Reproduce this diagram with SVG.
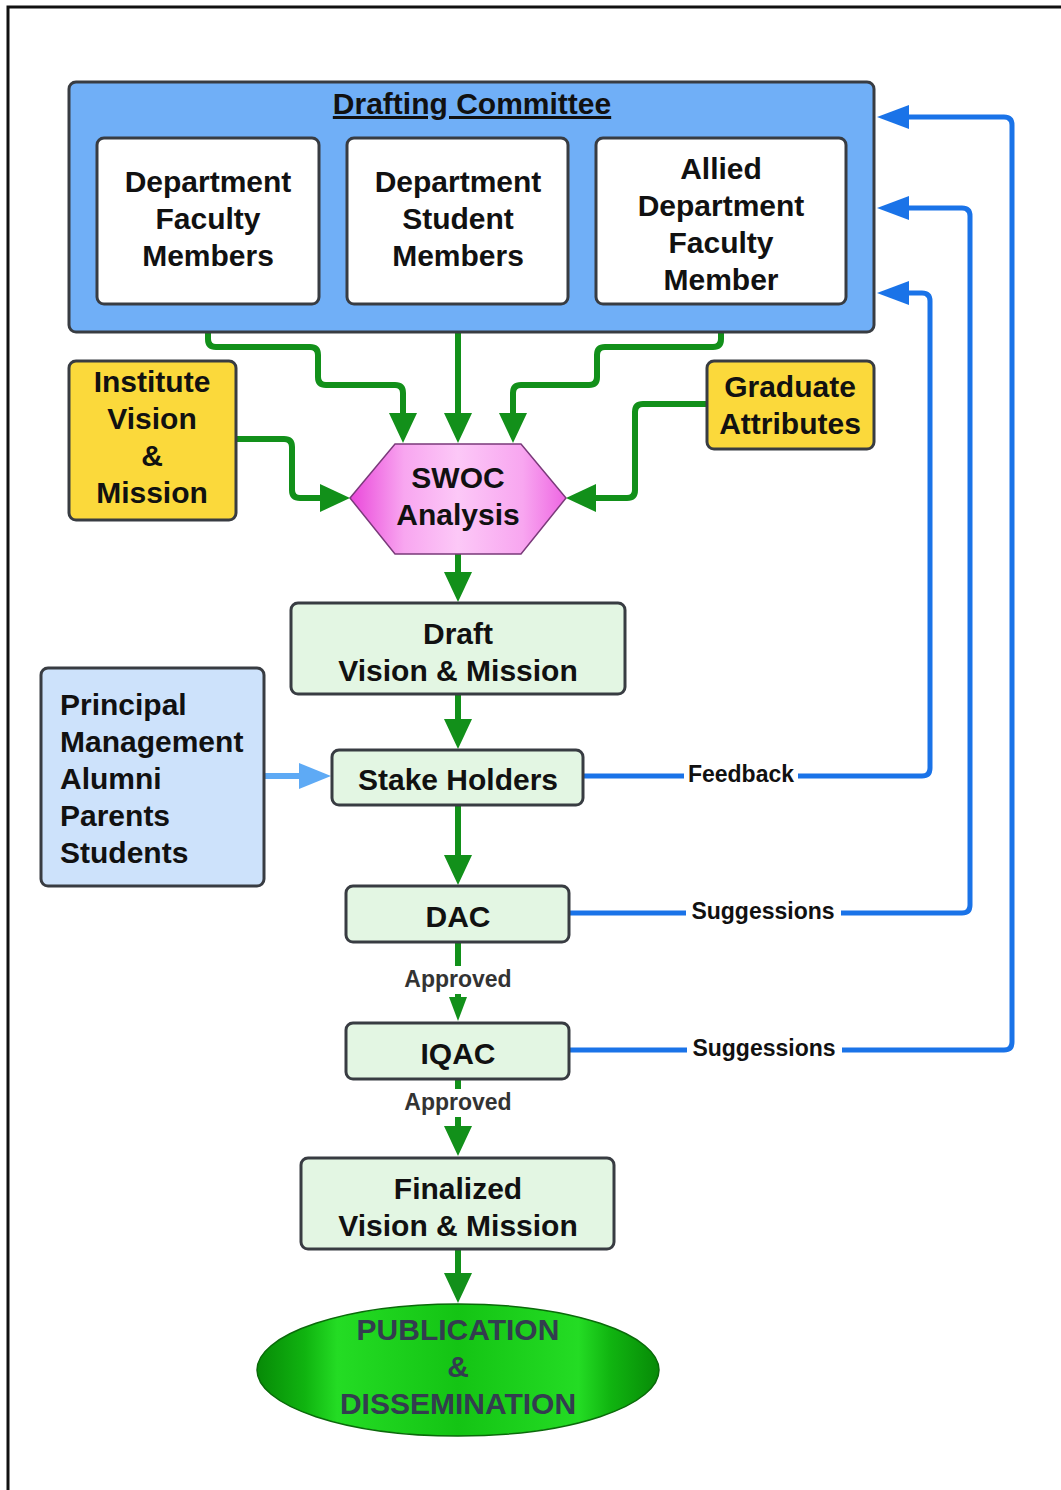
<svg xmlns="http://www.w3.org/2000/svg" width="1061" height="1490" viewBox="0 0 1061 1490">
<defs>
<style>
.box{stroke:#383c42;stroke-width:3}
.t{font-family:"Liberation Sans",Arial,sans-serif;font-weight:bold;font-size:30px;fill:#111;text-anchor:middle}
.lbl{font-family:"Liberation Sans",Arial,sans-serif;font-weight:bold;font-size:23px;fill:#111;text-anchor:middle}
.g{fill:none;stroke:#12901a;stroke-width:6}
.b{fill:none;stroke:#1a73e8;stroke-width:5}
</style>
<marker id="ag" markerUnits="userSpaceOnUse" markerWidth="30" markerHeight="28" refX="15" refY="14" orient="auto"><path d="M0,0 L30,14 L0,28 z" fill="#12901a"/></marker>
<marker id="ags" markerUnits="userSpaceOnUse" markerWidth="24" markerHeight="18" refX="12" refY="9" orient="auto"><path d="M0,0 L24,9 L0,18 z" fill="#12901a"/></marker>
<marker id="ab" markerUnits="userSpaceOnUse" markerWidth="32" markerHeight="24" refX="16" refY="12" orient="auto"><path d="M0,0 L32,12 L0,24 z" fill="#1a73e8"/></marker>
<marker id="alb" markerUnits="userSpaceOnUse" markerWidth="32" markerHeight="26" refX="16" refY="13" orient="auto"><path d="M0,0 L32,13 L0,26 z" fill="#5eaaf5"/></marker>
<linearGradient id="pink" x1="0" y1="0" x2="1" y2="0">
<stop offset="0" stop-color="#ea48da"/><stop offset="0.25" stop-color="#f8a6f0"/><stop offset="0.5" stop-color="#fcc8f7"/><stop offset="0.8" stop-color="#f8a6f0"/><stop offset="1" stop-color="#ee66e2"/>
</linearGradient>
<linearGradient id="grn" x1="0" y1="0" x2="1" y2="0">
<stop offset="0" stop-color="#078a07"/><stop offset="0.12" stop-color="#10b410"/><stop offset="0.2" stop-color="#24dc24"/><stop offset="0.5" stop-color="#14c414"/><stop offset="0.8" stop-color="#24dc24"/><stop offset="0.88" stop-color="#10b410"/><stop offset="1" stop-color="#078a07"/>
</linearGradient>
</defs>
<rect width="1061" height="1490" fill="#fff"/>
<path d="M8,1490 V7 H1061" fill="none" stroke="#111" stroke-width="3"/>

<g id="connectors">
<path class="g" d="M208,304 V339 Q208,347 216,347 H310 Q318,347 318,355 V377 Q318,385 326,385 H395 Q403,385 403,393 V428" marker-end="url(#ag)"/>
<path class="g" d="M458,304 V428" marker-end="url(#ag)"/>
<path class="g" d="M721,304 V339 Q721,347 713,347 H605 Q597,347 597,355 V377 Q597,385 589,385 H521 Q513,385 513,393 V428" marker-end="url(#ag)"/>
<path class="g" d="M236,439 H284 Q292,439 292,447 V490 Q292,498 300,498 H335" marker-end="url(#ag)"/>
<path class="g" d="M707,404 H643 Q635,404 635,412 V490 Q635,498 627,498 H581" marker-end="url(#ag)"/>
<path class="g" d="M458,554 V587" marker-end="url(#ag)"/>
<path class="g" d="M458,694 V734" marker-end="url(#ag)"/>
<path class="g" d="M458,805 V870" marker-end="url(#ag)"/>
<path class="g" d="M458,942 V1009" marker-end="url(#ags)"/>
<path class="g" d="M458,1079 V1141" marker-end="url(#ag)"/>
<path class="g" d="M458,1249 V1288" marker-end="url(#ag)"/>
<path d="M264,776 H315" fill="none" stroke="#5eaaf5" stroke-width="6" marker-end="url(#alb)"/>
<path class="b" d="M583,776 H922 Q930,776 930,768 V301 Q930,293 922,293 H893" marker-end="url(#ab)"/>
<path class="b" d="M569,913 H962 Q970,913 970,905 V216 Q970,208 962,208 H893" marker-end="url(#ab)"/>
<path class="b" d="M569,1050 H1004 Q1012,1050 1012,1042 V125 Q1012,117 1004,117 H893" marker-end="url(#ab)"/>
<rect x="684" y="762" width="114" height="26" fill="#fff"/>
<text class="lbl" x="741" y="782">Feedback</text>
<rect x="686" y="899" width="155" height="28" fill="#fff"/>
<text class="lbl" x="763" y="919">Suggessions</text>
<rect x="687" y="1036" width="155" height="28" fill="#fff"/>
<text class="lbl" x="764" y="1056">Suggessions</text>
<rect x="400" y="966" width="116" height="28" fill="#fff"/>
<text class="lbl" x="458" y="987" style="fill:#333">Approved</text>
<rect x="400" y="1089" width="116" height="28" fill="#fff"/>
<text class="lbl" x="458" y="1110" style="fill:#333">Approved</text>
</g>

<g id="drafting-committee">
<rect class="box" x="69" y="82" width="805" height="250" rx="7" fill="#70aff7"/>
<text class="t" x="472" y="114" text-decoration="underline">Drafting Committee</text>
</g>
<g id="dept-faculty">
<rect class="box" x="97" y="138" width="222" height="166" rx="7" fill="#fff"/>
<text class="t" x="208" y="192">Department</text>
<text class="t" x="208" y="229">Faculty</text>
<text class="t" x="208" y="266">Members</text>
</g>
<g id="dept-student">
<rect class="box" x="347" y="138" width="221" height="166" rx="7" fill="#fff"/>
<text class="t" x="458" y="192">Department</text>
<text class="t" x="458" y="229">Student</text>
<text class="t" x="458" y="266">Members</text>
</g>
<g id="allied-faculty">
<rect class="box" x="596" y="138" width="250" height="166" rx="7" fill="#fff"/>
<text class="t" x="721" y="179">Allied</text>
<text class="t" x="721" y="216">Department</text>
<text class="t" x="721" y="253">Faculty</text>
<text class="t" x="721" y="290">Member</text>
</g>
<g id="institute">
<rect class="box" x="69" y="361" width="167" height="159" rx="7" fill="#fbd93b"/>
<text class="t" x="152" y="392">Institute</text>
<text class="t" x="152" y="429">Vision</text>
<text class="t" x="152" y="466">&amp;</text>
<text class="t" x="152" y="503">Mission</text>
</g>
<g id="graduate">
<rect class="box" x="707" y="361" width="167" height="88" rx="7" fill="#fbd93b"/>
<text class="t" x="790" y="397">Graduate</text>
<text class="t" x="790" y="434">Attributes</text>
</g>
<g id="swoc">
<polygon points="350,498 395,444 521,444 566,498 521,554 395,554" fill="url(#pink)" stroke="#7a3a7a" stroke-width="1.5"/>
<text class="t" x="458" y="488">SWOC</text>
<text class="t" x="458" y="525">Analysis</text>
</g>
<g id="draft">
<rect class="box" x="291" y="603" width="334" height="91" rx="7" fill="#e3f6e3"/>
<text class="t" x="458" y="644">Draft</text>
<text class="t" x="458" y="681">Vision &amp; Mission</text>
</g>
<g id="stakeholder-list">
<rect class="box" x="41" y="668" width="223" height="218" rx="7" fill="#cde2fb"/>
<text class="t" x="60" y="715" text-anchor="start" style="text-anchor:start">Principal</text>
<text class="t" x="60" y="752" style="text-anchor:start">Management</text>
<text class="t" x="60" y="789" style="text-anchor:start">Alumni</text>
<text class="t" x="60" y="826" style="text-anchor:start">Parents</text>
<text class="t" x="60" y="863" style="text-anchor:start">Students</text>
</g>
<g id="stake-holders">
<rect class="box" x="332" y="750" width="251" height="55" rx="7" fill="#e3f6e3"/>
<text class="t" x="458" y="790">Stake Holders</text>
</g>
<g id="dac">
<rect class="box" x="346" y="886" width="223" height="56" rx="7" fill="#e3f6e3"/>
<text class="t" x="458" y="927">DAC</text>
</g>
<g id="iqac">
<rect class="box" x="346" y="1023" width="223" height="56" rx="7" fill="#e3f6e3"/>
<text class="t" x="458" y="1064">IQAC</text>
</g>
<g id="finalized">
<rect class="box" x="301" y="1158" width="313" height="91" rx="7" fill="#e3f6e3"/>
<text class="t" x="458" y="1199">Finalized</text>
<text class="t" x="458" y="1236">Vision &amp; Mission</text>
</g>
<g id="publication">
<ellipse cx="458" cy="1370" rx="201" ry="66" fill="url(#grn)" stroke="#0a6a0a" stroke-width="1.5"/>
<text class="t" x="458" y="1340" style="fill:#333d4f">PUBLICATION</text>
<text class="t" x="458" y="1377" style="fill:#333d4f">&amp;</text>
<text class="t" x="458" y="1414" style="fill:#333d4f">DISSEMINATION</text>
</g>
</svg>
